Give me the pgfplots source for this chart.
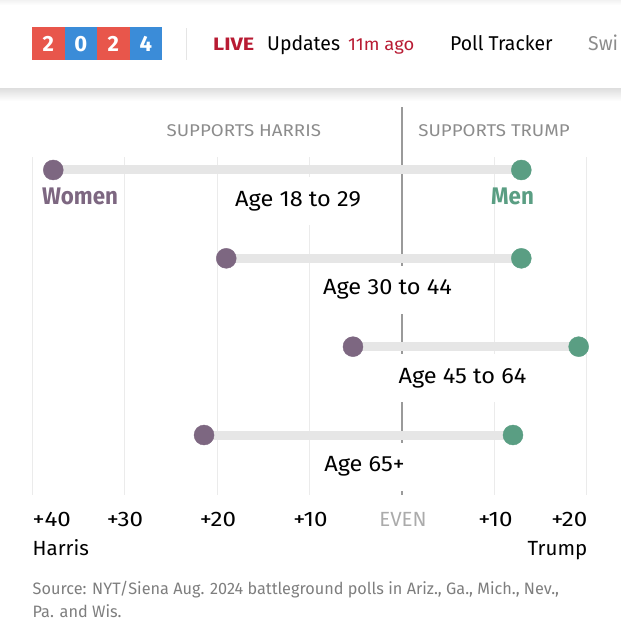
\documentclass[border=0pt]{standalone}
\usepackage{fontspec}
\usepackage{pgfplots}
\pgfplotsset{compat=1.18}
\setmainfont{Fira Sans}
\newfontfamily\hdrfont[FakeStretch=0.97]{Fira Sans}
\newfontfamily\hdrwfont[FakeStretch=1.05]{Fira Sans}
\newfontfamily\livefont[FakeStretch=1.2]{Fira Sans}
\newfontfamily\supfont[FakeStretch=1.1]{Fira Sans}
\newfontfamily\agefont[FakeStretch=1.07]{Fira Sans}
\newfontfamily\wmfont[FakeStretch=0.93]{Fira Sans}
\newfontfamily\tickfont[FakeStretch=1.15]{Fira Sans}
\newfontfamily\candfont[FakeStretch=1.0]{Fira Sans}
\newfontfamily\srcfont[FakeStretch=0.985]{Fira Sans}
\definecolor{women}{HTML}{7D6781}
\definecolor{men}{HTML}{5A9E83}
\definecolor{barg}{HTML}{E6E6E6}
\definecolor{gridg}{HTML}{EBEBEB}
\definecolor{evenline}{HTML}{9A9A9A}
\definecolor{nytred}{HTML}{E8564B}
\definecolor{nytblue}{HTML}{3B8CD8}
\definecolor{crimson}{HTML}{B81B33}
\definecolor{srcgray}{HTML}{7E7E7E}
\definecolor{hdrgray}{HTML}{8C8C8C}
\begin{document}
\begin{tikzpicture}[x=1pt,y=1pt]
\path[use as bounding box] (0,0) rectangle (621,-640);
% header
\shade[top color=black!5, bottom color=white] (0,0) rectangle (621,-5);
\shade[top color=black!13, bottom color=white] (0,-88) rectangle (621,-101);
\fill[nytred] (32,-27) rectangle (64.5,-59.5);
\fill[nytblue] (64.5,-27) rectangle (97,-59.5);
\fill[nytred] (97,-27) rectangle (129.5,-59.5);
\fill[nytblue] (129.5,-27) rectangle (162,-59.5);
\begin{scope}[every node/.style={text=white, inner sep=0, anchor=base, font=\fontsize{22}{24}\selectfont\bfseries}]
\node at (48.25,-51) {2};
\node at (80.75,-51) {0};
\node at (113.25,-51) {2};
\node at (145.75,-51) {4};
\end{scope}
\draw[black!10, line width=1pt] (186,-28) -- (186,-60);
\node[anchor=base west, inner sep=0, text=crimson, font=\livefont\fontsize{18}{20}\selectfont\bfseries] at (213,-50) {LIVE};
\node[anchor=base west, inner sep=0, font=\hdrfont\fontsize{20}{22}\selectfont] at (267,-50) {Updates};
\node[anchor=base west, inner sep=0, text=crimson, font=\hdrwfont\fontsize{17.5}{20}\selectfont] at (348,-50) {11m ago};
\node[anchor=base west, inner sep=0, font=\hdrfont\fontsize{20}{22}\selectfont] at (450,-50) {Poll Tracker};
\node[anchor=base west, inner sep=0, text=black!45, font=\hdrfont\fontsize{20}{22}\selectfont] at (588,-50) {Swi};
% chart
\begin{axis}[
  at={(32pt,-495pt)}, anchor=south west,
  scale only axis, width=555pt, height=388pt,
  xmin=-40, xmax=20, ymin=0.321, ymax=4.713,
  hide axis, clip=false,
]
\pgfplotsinvokeforeach{-40,-30,-20,-10,10,20}{
  \draw[gridg, line width=1pt] (axis cs:#1,4.147) -- (axis cs:#1,0.321);
}
\draw[evenline, line width=1.4pt] (axis cs:0,4.713) -- (axis cs:0,0.321);
% top labels
\node[anchor=base, inner sep=0, text=hdrgray, font=\supfont\fontsize{17}{19}\selectfont] at (axis cs:-17.1,4.377) {SUPPORTS HARRIS};
\node[anchor=base, inner sep=0, text=hdrgray, font=\supfont\fontsize{17}{19}\selectfont] at (axis cs:9.95,4.377) {SUPPORTS TRUMP};
% category labels with white boxes
\begin{scope}[every node/.style={anchor=base, fill=white, inner xsep=4pt, inner ysep=14pt, text height=15pt, text depth=5pt, font=\agefont\fontsize{22}{25}\selectfont}]
\node at (axis cs:-11.24,3.587) {Age 18 to 29};
\node at (axis cs:-1.57,2.587) {Age 30 to 44};
\node at (axis cs:6.54,1.587) {Age 45 to 64};
\node at (axis cs:-4.05,0.587) {Age 65+};
\end{scope}
% bars
\addplot[barg, line width=9pt] coordinates {(-37.7,4) (12.9,4)};
\addplot[barg, line width=9pt] coordinates {(-19.0,3) (12.9,3)};
\addplot[barg, line width=9pt] coordinates {(-5.3,2) (19.1,2)};
\addplot[barg, line width=9pt] coordinates {(-21.4,1) (12.0,1)};
% dots
\addplot[only marks, mark=*, mark size=10pt, mark options={draw=women, fill=women}] coordinates {(-37.7,4) (-19.0,3) (-5.3,2) (-21.4,1)};
\addplot[only marks, mark=*, mark size=10pt, mark options={draw=men, fill=men}] coordinates {(12.9,4) (12.9,3) (19.1,2) (12.0,1)};
% Women / Men labels
\node[anchor=base, inner sep=0, text=women, font=\wmfont\fontsize{24}{27}\selectfont\bfseries] at (axis cs:-34.8,3.604) {Women};
\node[anchor=base, inner sep=0, text=men, font=\wmfont\fontsize{24}{27}\selectfont\bfseries] at (axis cs:11.95,3.604) {Men};
\end{axis}
% tick labels
\begin{scope}[every node/.style={inner sep=0, font=\tickfont\fontsize{21}{23}\selectfont}]
\node[anchor=base west] at (32.5,-526.5) {+40};
\node[anchor=base] at (125,-526.5) {+30};
\node[anchor=base] at (218,-526.5) {+20};
\node[anchor=base] at (310.5,-526.5) {+10};
\node[anchor=base, text=black!33, font=\candfont\fontsize{20.5}{23}\selectfont] at (403,-526.5) {EVEN};
\node[anchor=base] at (495.5,-526.5) {+10};
\node[anchor=base east] at (587.5,-526.5) {+20};
\end{scope}
\begin{scope}[every node/.style={inner sep=0, font=\candfont\fontsize{20.5}{23}\selectfont}]
\node[anchor=base west] at (32.5,-555) {Harris};
\node[anchor=base east] at (587.5,-555) {Trump};
\end{scope}
\begin{scope}[every node/.style={inner sep=0, anchor=base west, text=srcgray, font=\srcfont\fontsize{16.5}{19}\selectfont}]
\node at (32.5,-594) {Source: NYT/Siena Aug. 2024 battleground polls in Ariz., Ga., Mich., Nev.,};
\node at (32.5,-617) {Pa. and Wis.};
\end{scope}
\end{tikzpicture}
\end{document}
